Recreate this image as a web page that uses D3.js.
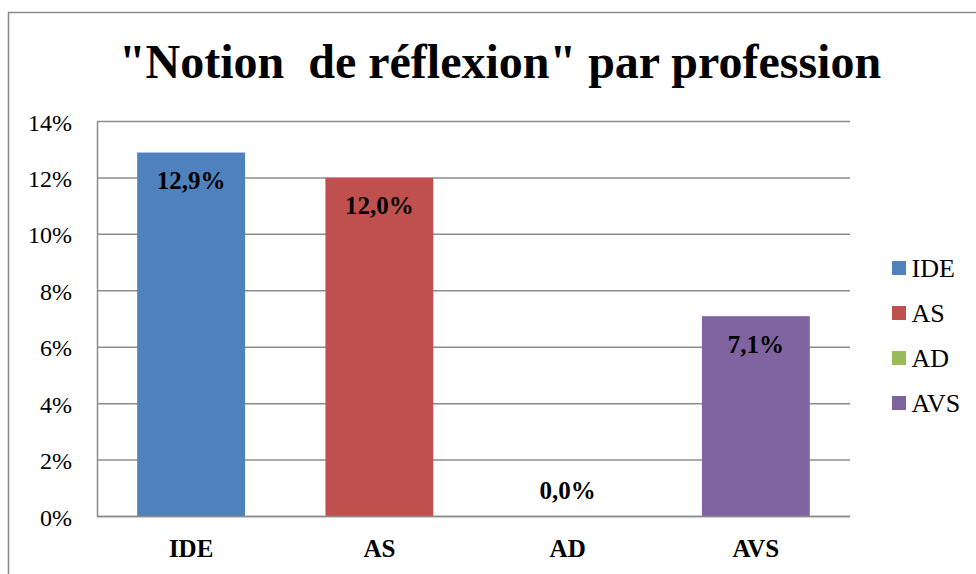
<!DOCTYPE html>
<html><head><meta charset="utf-8">
<script src="https://cdn.jsdelivr.net/npm/d3@7"></script>
</head><body style="margin:0">
<svg id="chart" width="976" height="574"></svg>
<script>
const categories = ["IDE", "AS", "AD", "AVS"];
const values = [0.129, 0.120, 0.000, 0.071];
const valueLabels = ["12,9%", "12,0%", "0,0%", "7,1%"];
const colors = ["#4F81BD", "#C0504D", "#9BBB59", "#8064A2"];
const yTicks = [0, 0.02, 0.04, 0.06, 0.08, 0.10, 0.12, 0.14];
const titleText = "\"Notion  de réflexion\" par profession";

const FONT = '"Liberation Serif"';
// prime the system font (regular and bold)
const ctx = document.createElement("canvas").getContext("2d");
ctx.font = "40px " + FONT; ctx.measureText(titleText);
ctx.font = "bold 40px " + FONT; ctx.measureText(titleText);

const svg = d3.select("#chart");
const plot = {left: 97, right: 850, top: 121.5, bottom: 516.5};

// outer frame
svg.append("rect").attr("x", 8.5).attr("y", 12.5).attr("width", 1000).attr("height", 600)
  .attr("fill", "#fff").attr("stroke", "#8a8a8a").attr("stroke-width", 1.5);

// title
svg.append("text").attr("x", 500).attr("y", 78).attr("text-anchor", "middle")
  .style("font-family", FONT).style("font-weight", "bold").style("font-size", "48px")
  .style("white-space", "pre")
  .text(titleText);

const x = d3.scaleBand().domain(categories).range([plot.left, plot.right])
  .paddingInner(0.427).paddingOuter(0.2135);
const y = d3.scaleLinear().domain([0, 0.14]).range([plot.bottom, plot.top]);

// gridlines
svg.append("g").selectAll("line").data(yTicks).join("line")
  .attr("x1", plot.left).attr("x2", plot.right)
  .attr("y1", d => y(d)).attr("y2", d => y(d))
  .attr("stroke", "#8c8c8c").attr("stroke-width", 1.5);

// y axis
const yAxis = d3.axisLeft(y).tickValues(yTicks).tickSize(0).tickPadding(25)
  .tickFormat(d => Math.round(d * 100) + "%");
const ya = svg.append("g").attr("transform", `translate(${plot.left},0)`).call(yAxis);
ya.select(".domain").attr("stroke", "#8c8c8c").attr("stroke-width", 1.5);
ya.selectAll("text").style("font-family", FONT).style("font-size", "24px").attr("fill", "#000")
  .attr("dy", "0.36em");

// bars
svg.append("g").selectAll("rect").data(categories).join("rect")
  .attr("x", d => x(d)).attr("width", x.bandwidth())
  .attr("y", (d, i) => y(values[i])).attr("height", (d, i) => y(0) - y(values[i]))
  .attr("fill", (d, i) => colors[i]);

// x axis line redrawn on top
svg.append("line").attr("x1", plot.left).attr("x2", plot.right)
  .attr("y1", y(0)).attr("y2", y(0)).attr("stroke", "#8c8c8c").attr("stroke-width", 1.5);

// data labels
svg.append("g").selectAll("text").data(categories).join("text")
  .attr("x", d => x(d) + x.bandwidth() / 2)
  .attr("y", (d, i) => {
    const top = y(values[i]);
    return (y(0) - top) > 40 ? top + 36.5 : y(0) - 18;
  })
  .attr("text-anchor", "middle")
  .style("font-family", FONT).style("font-weight", "bold")
  .style("font-size", "25px").attr("fill", "#000")
  .text((d, i) => valueLabels[i]);

// x axis labels
const xAxis = d3.axisBottom(x).tickSize(0).tickPadding(0);
const xa = svg.append("g").attr("transform", `translate(0,${plot.bottom})`).call(xAxis);
xa.select(".domain").remove();
xa.selectAll("text").style("font-family", FONT).style("font-weight", "bold")
  .style("font-size", "25px").attr("fill", "#000").attr("dy", null).attr("y", 40);

// legend
const lg = svg.append("g").selectAll("g").data(categories).join("g")
  .attr("transform", (d, i) => `translate(892,${268 + i * 45})`);
lg.append("rect").attr("x", 0).attr("y", -7).attr("width", 14).attr("height", 14)
  .attr("fill", (d, i) => colors[i]);
lg.append("text").attr("x", 19.5).attr("y", 8.5)
  .style("font-family", FONT).style("font-size", "26px").attr("fill", "#000").text(d => d);
</script>
</body></html>
